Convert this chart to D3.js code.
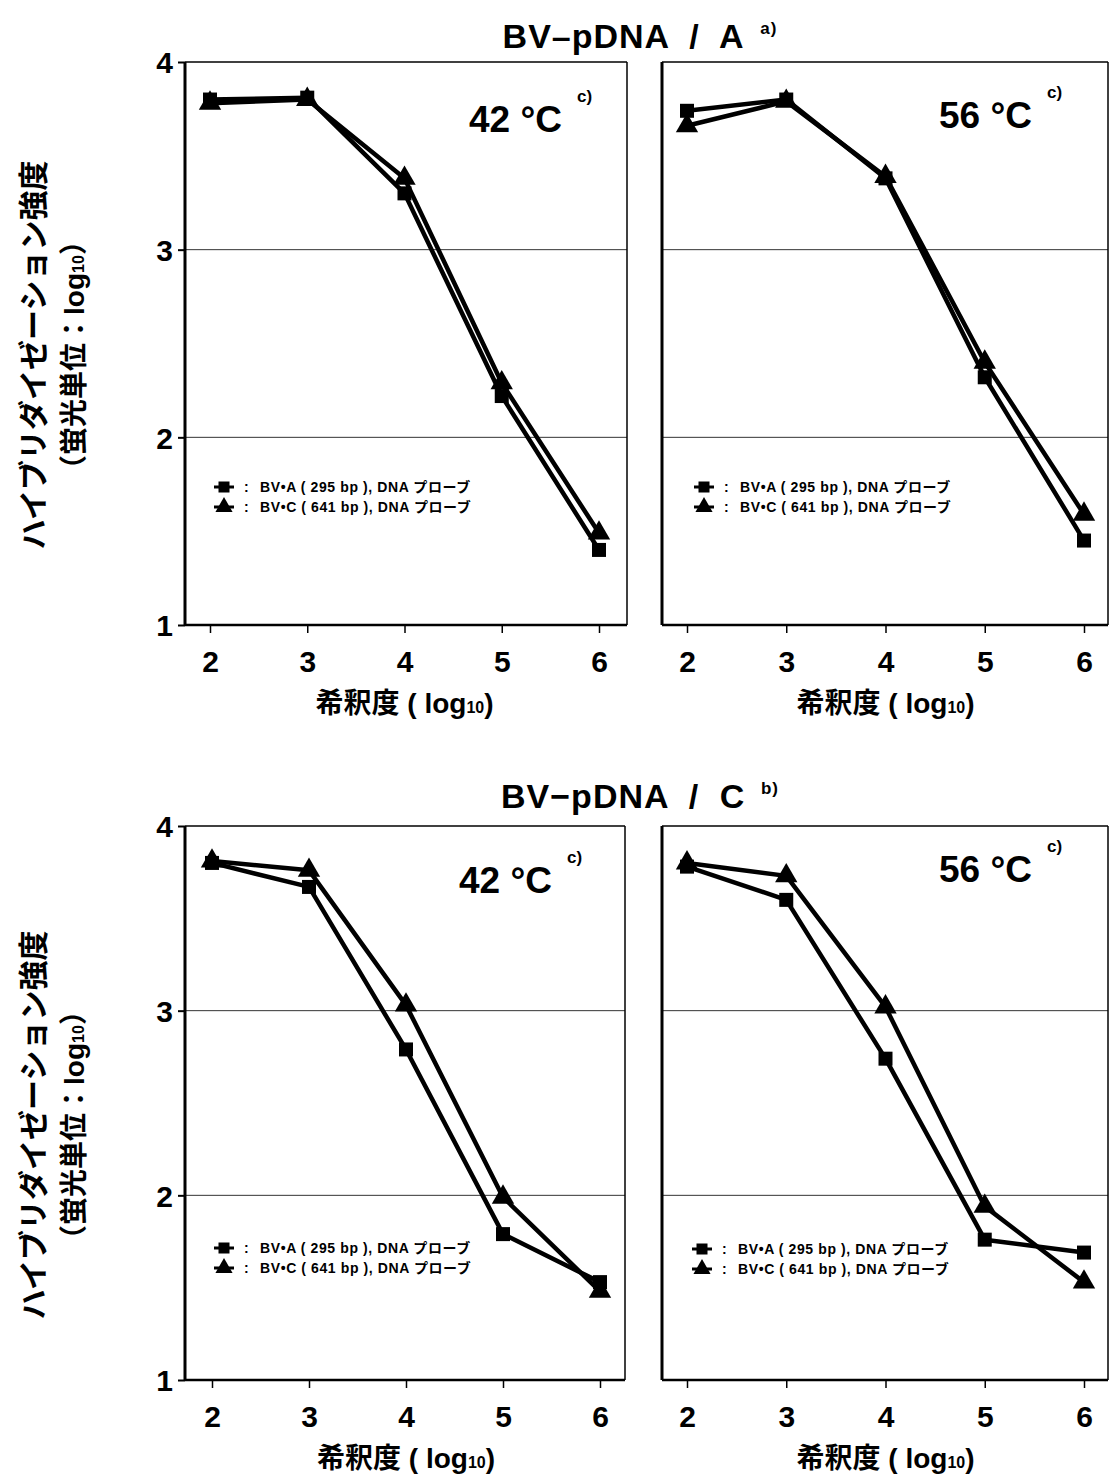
<!DOCTYPE html>
<html>
<head>
<meta charset="utf-8">
<script src="https://cdn.jsdelivr.net/npm/d3@7"></script>
<style>
  body { margin: 0; background: #fff; }
  svg text { font-family: "Liberation Sans", "Noto Sans CJK JP", sans-serif; font-weight: bold; fill: #000; }
</style>
</head>
<body>
<div id="chart"></div>
<script>
// ---- datos ----
const dilucion = [2, 3, 4, 5, 6];
const yTicks = [1, 2, 3, 4];

// BV-pDNA / A
const a42Cuadrado = [3.80, 3.81, 3.30, 2.22, 1.40];
const a42Triangulo = [3.78, 3.80, 3.38, 2.29, 1.49];
const a56Cuadrado = [3.74, 3.80, 3.38, 2.32, 1.45];
const a56Triangulo = [3.66, 3.79, 3.39, 2.40, 1.59];

// BV-pDNA / C
const c42Cuadrado = [3.80, 3.67, 2.79, 1.79, 1.53];
const c42Triangulo = [3.81, 3.76, 3.03, 1.99, 1.48];
const c56Cuadrado = [3.78, 3.60, 2.74, 1.76, 1.69];
const c56Triangulo = [3.80, 3.73, 3.02, 1.94, 1.53];

const leyendaA = "BV\u2022A ( 295 bp ), DNA プローブ";
const leyendaC = "BV\u2022C ( 641 bp ), DNA プローブ";
const titulos = ["BV\u2013pDNA / A", "BV\u2212pDNA / C"];
const notasTitulo = ["a)", "b)"];
const etiquetaY1 = "ハイブリダイゼーション強度";
const etiquetaY2 = "（蛍光単位：log";
const etiquetaX = "希釈度 ( log";

// ---- layout ----
const W = 1111, H = 1482;
const svg = d3.select("#chart").append("svg").attr("width", W).attr("height", H);

const paneles = [
  { x0: 185, x1: 627, y0: 62, y1: 625, px2: 210, px6: 599, temp: "42", tx: 469, ty: 132, cuad: a42Cuadrado, tri: a42Triangulo, ejeY: true, lx: 224, ly: 487 },
  { x0: 662, x1: 1108, y0: 62, y1: 625, px2: 687, px6: 1084, temp: "56", tx: 939, ty: 128, cuad: a56Cuadrado, tri: a56Triangulo, ejeY: false, lx: 704, ly: 487 },
  { x0: 185, x1: 625, y0: 826, y1: 1380, px2: 212, px6: 600, temp: "42", tx: 459, ty: 893, cuad: c42Cuadrado, tri: c42Triangulo, ejeY: true, lx: 224, ly: 1248 },
  { x0: 662, x1: 1108, y0: 826, y1: 1380, px2: 687, px6: 1084, temp: "56", tx: 939, ty: 882, cuad: c56Cuadrado, tri: c56Triangulo, ejeY: false, lx: 702, ly: 1249 }
];

function marcador(g, tipo, x, y, s) {
  if (tipo === "cuad") {
    g.append("rect").attr("x", x - s / 2).attr("y", y - s / 2)
      .attr("width", s).attr("height", s).attr("fill", "#000");
  } else {
    g.append("path")
      .attr("d", d3.symbol().type(d3.symbolTriangle).size(s * s * 0.75)())
      .attr("transform", `translate(${x},${y})`).attr("fill", "#000");
  }
}

function graficarPanel(p) {
  const g = svg.append("g");
  const x = d3.scaleLinear().domain([2, 6]).range([p.px2, p.px6]);
  const y = d3.scaleLinear().domain([1, 4]).range([p.y1, p.y0]);

  // lineas de rejilla
  g.selectAll("line.grid").data([2, 3]).enter().append("line")
    .attr("x1", p.x0).attr("x2", p.x1)
    .attr("y1", d => y(d)).attr("y2", d => y(d))
    .attr("stroke", "#333").attr("stroke-width", 1);

  // marco
  g.append("line").attr("x1", p.x0).attr("x2", p.x1).attr("y1", p.y0).attr("y2", p.y0)
    .attr("stroke", "#000").attr("stroke-width", 1.5);
  g.append("line").attr("x1", p.x1).attr("x2", p.x1).attr("y1", p.y0).attr("y2", p.y1)
    .attr("stroke", "#000").attr("stroke-width", 1.5);
  g.append("line").attr("x1", p.x0).attr("x2", p.x1).attr("y1", p.y1).attr("y2", p.y1)
    .attr("stroke", "#000").attr("stroke-width", 2.5);
  g.append("line").attr("x1", p.x0).attr("x2", p.x0).attr("y1", p.y0).attr("y2", p.y1)
    .attr("stroke", "#000").attr("stroke-width", 3);

  // eje x
  const ax = g.append("g").attr("transform", `translate(0,${p.y1})`)
    .call(d3.axisBottom(x).tickValues(dilucion).tickSize(8).tickPadding(18).tickFormat(d3.format("d")));
  ax.select(".domain").remove();
  ax.selectAll("line").attr("stroke-width", 1.5);
  ax.selectAll("text").style("font-size", "30px");

  // eje y
  if (p.ejeY) {
    const ay = g.append("g").attr("transform", `translate(${p.x0},0)`)
      .call(d3.axisLeft(y).tickValues(yTicks).tickSize(7).tickPadding(5).tickFormat(d3.format("d")));
    ay.select(".domain").remove();
    ay.selectAll("line").attr("stroke-width", 2);
    ay.selectAll("text").style("font-size", "30px").attr("dy", "0.36em");
  }

  // etiqueta del eje x
  const lab = g.append("text").attr("x", x(4)).attr("y", p.y1 + 88)
    .attr("text-anchor", "middle").style("font-size", "28px");
  lab.append("tspan").text(etiquetaX);
  lab.append("tspan").text("10").style("font-size", "16px");
  lab.append("tspan").text(")");

  // series
  const linea = d3.line().x((d, i) => x(dilucion[i])).y(d => y(d));
  [p.tri, p.cuad].forEach(serie => {
    g.append("path").datum(serie).attr("d", linea)
      .attr("fill", "none").attr("stroke", "#000").attr("stroke-width", 4.5)
      .attr("stroke-linejoin", "round");
  });
  p.tri.forEach((v, i) => marcador(g, "tri", x(dilucion[i]), y(v), 17));
  p.cuad.forEach((v, i) => marcador(g, "cuad", x(dilucion[i]), y(v), 14));

  // temperatura
  g.append("text").attr("x", p.tx).attr("y", p.ty).style("font-size", "37px")
    .text(p.temp + " \u00b0C");
  g.append("text").attr("x", p.tx + 108).attr("y", p.ty - 30).text("c)").style("font-size", "17px");

  // leyenda
  [["cuad", leyendaA], ["tri", leyendaC]].forEach(([tipo, texto], i) => {
    const yy = p.ly + i * 20;
    g.append("line").attr("x1", p.lx - 10).attr("x2", p.lx + 10).attr("y1", yy).attr("y2", yy)
      .attr("stroke", "#000").attr("stroke-width", 3);
    marcador(g, tipo, p.lx, yy, tipo === "cuad" ? 11 : 13);
    g.append("text").attr("x", p.lx + 20).attr("y", yy + 5).text(":").style("font-size", "14px");
    g.append("text").attr("x", p.lx + 36).attr("y", yy + 5).text(texto)
      .style("font-size", "14px").style("letter-spacing", "0.6px");
  });
}

paneles.forEach(graficarPanel);

// titulos
[[640, 48], [640, 808]].forEach(([cx, cy], i) => {
  const t = svg.append("text").attr("x", cx).attr("y", cy).attr("text-anchor", "middle")
    .style("font-size", "34px").style("word-spacing", "10px").style("letter-spacing", "1px");
  t.append("tspan").text(titulos[i]);
  t.append("tspan").text(" " + notasTitulo[i]).style("font-size", "17px").attr("dy", -14);
});

// etiquetas del eje y
[355, 1125].forEach(cy => {
  const g = svg.append("g");
  g.append("text").attr("transform", `translate(44,${cy}) rotate(-90)`)
    .attr("text-anchor", "middle").style("font-size", "30px").text(etiquetaY1);
  const t2 = g.append("text").attr("transform", `translate(84,${cy}) rotate(-90)`)
    .attr("text-anchor", "middle").style("font-size", "28px");
  t2.append("tspan").text(etiquetaY2);
  t2.append("tspan").text("10").style("font-size", "16px");
  t2.append("tspan").text("）");
});
</script>
</body>
</html>
